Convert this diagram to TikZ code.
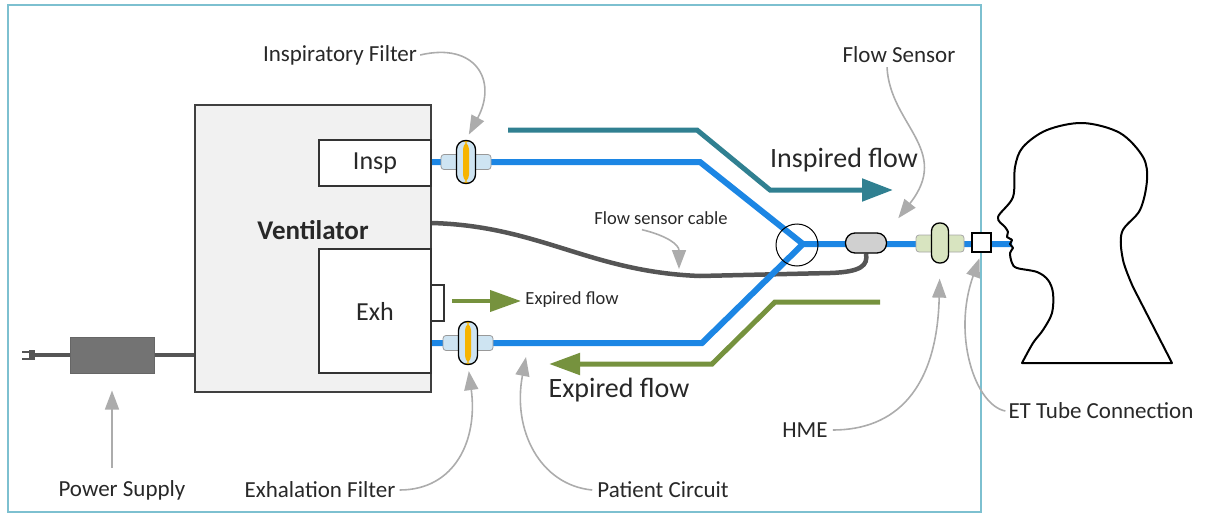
\documentclass[tikz,border=0pt]{standalone}
\usepackage{fontspec}
\setmainfont{Carlito}
\usetikzlibrary{arrows.meta, backgrounds}

\definecolor{framecol}{RGB}{125,192,208}
\definecolor{tubeblue}{RGB}{28,134,228}
\definecolor{inspteal}{RGB}{48,128,145}
\definecolor{expgreen}{RGB}{118,146,62}
\definecolor{cablegray}{RGB}{85,85,85}
\definecolor{callgray}{RGB}{172,172,172}
\definecolor{ventfill}{RGB}{241,241,241}
\definecolor{filtblue}{RGB}{206,228,242}
\definecolor{filtorange}{RGB}{246,180,0}
\definecolor{hmegreen}{RGB}{216,228,192}
\definecolor{sensorgray}{RGB}{208,208,208}
\definecolor{txtcol}{RGB}{40,40,40}

\tikzset{
  ventbox/.style={draw=black!75, line width=1.4pt, fill=ventfill, inner sep=0pt},
  portbox/.style={draw=black!80, line width=1.3pt, fill=white, inner sep=0pt, text=txtcol,
    font=\fontsize{26}{30}\selectfont},
  psubox/.style={draw=black!60, line width=1pt, fill=black!55, inner sep=0pt},
  filtcon/.style={draw=black!40, line width=0.8pt, fill=filtblue, rounded corners=3pt,
    minimum width=50pt, minimum height=15pt, inner sep=0pt},
  filtcap/.style={draw=black, line width=1.3pt, fill=filtblue, rounded corners=9pt,
    minimum width=19pt, minimum height=43pt, inner sep=0pt,
    path picture={\fill[filtorange] ([xshift=-3pt]path picture bounding box.south)
      rectangle ([xshift=3pt]path picture bounding box.north);}},
  sensor/.style={draw=black, line width=1.3pt, fill=sensorgray, rounded corners=9.5pt,
    minimum width=41pt, minimum height=20pt, inner sep=0pt},
  hmecon/.style={draw=black!35, line width=0.8pt, fill=hmegreen, rounded corners=3pt,
    minimum width=48pt, minimum height=17pt, inner sep=0pt},
  hmecap/.style={draw=black, line width=1.3pt, fill=hmegreen, rounded corners=8pt,
    minimum width=17pt, minimum height=40pt, inner sep=0pt},
  etbox/.style={draw=black, line width=1.2pt, fill=white, minimum size=19pt, inner sep=0pt},
  tube/.style={draw=tubeblue, line width=6pt},
  cable/.style={draw=cablegray, line width=4.5pt},
  cord/.style={draw=cablegray, line width=3.5pt},
  inflow/.style={draw=inspteal, line width=5pt, -{Triangle[length=31pt,width=22pt]}},
  exflow/.style={draw=expgreen, line width=5pt, -{Triangle[length=31pt,width=21pt]}},
  callout/.style={draw=callgray, line width=1.6pt, -{Triangle[length=19pt,width=14pt]}},
  lbl/.style={text=txtcol, inner sep=0pt, font=\fontsize{23}{27}\selectfont},
  biglbl/.style={text=txtcol, inner sep=0pt, font=\fontsize{28}{32}\selectfont},
  smalllbl/.style={text=txtcol, inner sep=0pt, font=\fontsize{18.5}{22}\selectfont}
}

\begin{document}
\begin{tikzpicture}[x=1pt,y=-1pt]
\useasboundingbox (0,0) rectangle (1208,514);

% ventilator with its ports
\node[ventbox, minimum width=236pt, minimum height=287pt] (vent) at (313,248.5) {};
\node[text=txtcol, font=\bfseries\fontsize{27}{30}\selectfont] (ventlbl) at (313,230) {Ventilator};
\node[portbox, minimum width=112pt, minimum height=46pt] (insp) at (375,163) {Insp};
\node[portbox, minimum width=112pt, minimum height=124pt] (exh) at (375,311) {Exh};
\node[portbox, minimum width=13pt, minimum height=36pt] (valve) at (437.5,303) {};

% power supply and plug
\node[psubox, minimum width=84pt, minimum height=36pt] (psu) at (112,355) {};
\coordinate (plug) at (35,355);
\fill[cablegray] (29,350) rectangle (35,360);
\draw[cablegray, line width=2pt] (22,351.5) -- (29,351.5) (22,358.5) -- (29,358.5);

% filters
\node[filtcon] (ifiltc) at (466,162) {};
\node[filtcap] (ifilt) at (466,162) {};
\node[filtcon] (efiltc) at (468,343) {};
\node[filtcap] (efilt) at (468,343) {};

% wye, sensor, HME and tube connector
\node[draw=black, line width=1pt, circle, minimum size=42pt, inner sep=0pt] (junc) at (797,245) {};
\coordinate (yjoint) at (803,244);
\node[sensor] (fsensor) at (866,243) {};
\node[hmecon] (hmec) at (940,243.5) {};
\node[hmecap] (hme) at (940,243) {};
\node[etbox] (ett) at (981.5,242.5) {};
\coordinate (mouth) at (1012,244);

\begin{scope}[on background layer]
\draw[framecol, line width=2pt] (8,5) rectangle (981,512);
\draw[cord] (plug) -- (psu) -- (vent.west |- psu);
\draw[cable] ([yshift=25.5pt]vent.east) .. controls (540,226) and (590,272) .. (700,276)
  -- (830,273) .. controls (862,272) and (868,265) .. (fsensor.south);
\draw[tube] (insp.east |- ifilt) -- (ifilt) -- (700,162) -- (yjoint) -- (mouth);
\draw[tube] (exh.east |- efilt) -- (efilt) -- (702,343) -- (yjoint);
\end{scope}

% flow arrows
\draw[inflow] (508,130) -- (697,130) -- (770,190) -- (893,190);
\draw[exflow] (880,302) -- (775,302) -- (712,364) -- (549,364);
\draw[exflow, line width=4pt] (452,301) -- (521,301);

\node[biglbl] (inlbl) at (844,160) {Inspired flow};
\node[biglbl] (exlbl) at (619,390) {Expired flow};
\node[smalllbl] (exsmall) at (572,300) {Expired flow};

% patient
\draw[line width=2pt, line join=round] plot[smooth, tension=0.55] coordinates {
  (1133,287) (1123,260) (1122,232) (1140,210) (1147,180) (1143,157) (1120,133)
  (1083,123) (1047,130) (1023,147) (1015,167) (1013,197) (998,217) (1005,227)
  (1008,232) (1007,237) (1012,240) (1010,244) (1013,248) (1010,253) (1012,263)
  (1017,268) (1037,272) (1048,280) (1053,293) (1052,313) (1043,330) (1033,343)
  (1022,363)} -- (1172,363) -- cycle;

% callouts
\node[lbl] (lblinfilt) at (340,55) {Inspiratory Filter};
\node[lbl] (lblsensor) at (899,55) {Flow Sensor};
\node[smalllbl] (lblcable) at (661,218) {Flow sensor cable};
\node[lbl] (lblpower) at (122,490) {Power Supply};
\node[lbl] (lblexfilt) at (320,490) {Exhalation Filter};
\node[lbl] (lblcircuit) at (663,490) {Patient Circuit};
\node[lbl] (lblhme) at (805,430) {HME};
\node[lbl] (lblet) at (1101,411) {ET Tube Connection};
\coordinate (cablept) at (679,269);
\coordinate (circpt) at (526,357);
\coordinate (pwrtail) at (112,468);

\draw[callout, shorten >=6pt] ([xshift=3pt]lblinfilt.east) .. controls (475,42) and (498,80) .. (ifilt.north);
\draw[callout, shorten >=18pt] ([xshift=-12pt,yshift=-4pt]lblsensor.south) .. controls (890,125) and (952,150) .. (fsensor.north east);
\draw[callout] ([xshift=-19pt,yshift=-5pt]lblcable.south) .. controls (668,236) and (679,245) .. (cablept);
\draw[callout, shorten >=17pt] (pwrtail) -- (psu.south);
\draw[callout, shorten >=6pt] ([xshift=4pt]lblexfilt.east) .. controls (455,490) and (478,440) .. (efilt.south);
\draw[callout] ([xshift=-5pt]lblcircuit.west) .. controls (540,485) and (512,430) .. (circpt);
\draw[callout, shorten >=15pt] ([xshift=5pt]lblhme.east) .. controls (895,430) and (937,390) .. (hme.south);
\draw[callout, shorten >=6pt] ([xshift=-3pt]lblet.west) .. controls (975,405) and (952,335) .. (ett.south);
\end{tikzpicture}
\end{document}
